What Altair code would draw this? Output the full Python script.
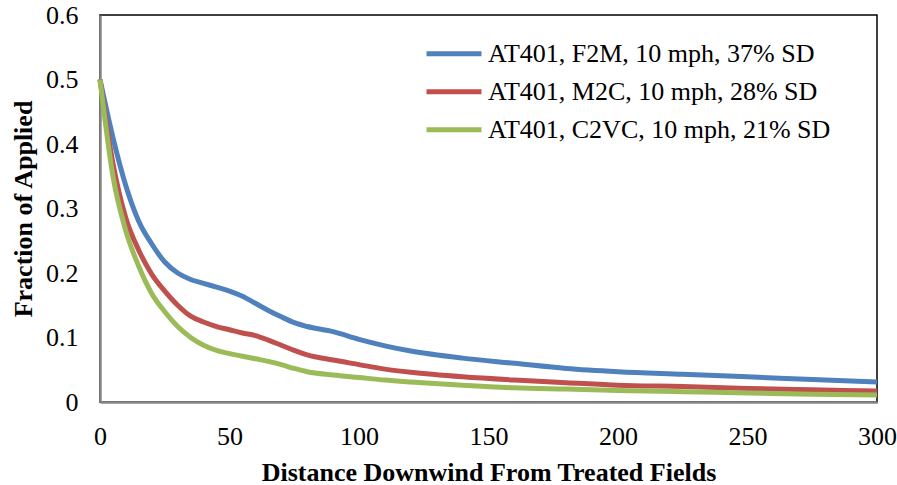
import altair as alt
import pandas as pd

distance = [0, 5, 10, 15, 20, 25, 30, 35, 40, 45, 50, 55, 60, 65, 70, 75, 80, 90, 100,
            110, 120, 140, 160, 180, 200, 225, 250, 275, 300]

series_names = [
    "AT401, F2M, 10 mph, 37% SD",
    "AT401, M2C, 10 mph, 28% SD",
    "AT401, C2VC, 10 mph, 21% SD",
]

f2m = [0.50, 0.41, 0.335, 0.28, 0.245, 0.217, 0.200, 0.190, 0.184, 0.178, 0.172, 0.164,
       0.153, 0.142, 0.132, 0.123, 0.117, 0.109, 0.097, 0.087, 0.079, 0.068, 0.060,
       0.052, 0.047, 0.043, 0.039, 0.035, 0.031]
m2c = [0.50, 0.37, 0.285, 0.235, 0.198, 0.172, 0.150, 0.133, 0.124, 0.117, 0.112, 0.107,
       0.103, 0.096, 0.088, 0.080, 0.073, 0.065, 0.058, 0.051, 0.046, 0.039, 0.034,
       0.030, 0.026, 0.024, 0.021, 0.019, 0.017]
c2vc = [0.50, 0.35, 0.265, 0.21, 0.168, 0.140, 0.117, 0.100, 0.088, 0.080, 0.075, 0.071,
        0.067, 0.063, 0.058, 0.052, 0.047, 0.042, 0.038, 0.034, 0.031, 0.026, 0.022,
        0.020, 0.018, 0.016, 0.014, 0.012, 0.011]

colors = ["#4F81BD", "#C0504D", "#9BBB59"]

rows = []
for name, vals in zip(series_names, [f2m, m2c, c2vc]):
    for d, v in zip(distance, vals):
        rows.append({"Distance": d, "Fraction": v, "Series": name})
df = pd.DataFrame(rows)

FONT = "Liberation Serif"

chart = alt.Chart(df).mark_line(strokeWidth=5, interpolate="monotone").encode(
    x=alt.X("Distance:Q",
            scale=alt.Scale(domain=[0, 300], nice=False),
            axis=alt.Axis(title="Distance Downwind From Treated Fields",
                          values=[0, 50, 100, 150, 200, 250, 300],
                          grid=False, ticks=False, labelPadding=21,
                          labelFlush=False, titlePadding=10)),
    y=alt.Y("Fraction:Q",
            scale=alt.Scale(domain=[0, 0.6], nice=False),
            axis=alt.Axis(title="Fraction of Applied",
                          values=[0, 0.1, 0.2, 0.3, 0.4, 0.5, 0.6],
                          format="~g",
                          grid=False, ticks=False, labelPadding=22,
                          labelFlush=False, titlePadding=9)),
    color=alt.Color("Series:N",
                    scale=alt.Scale(domain=series_names, range=colors),
                    sort=series_names,
                    legend=alt.Legend(title=None, orient="none",
                                      legendX=324, legendY=20,
                                      symbolType="stroke", symbolSize=3025,
                                      symbolStrokeWidth=5, labelOffset=4,
                                      clipHeight=37.5, rowPadding=0)),
    order=alt.Order("Distance:Q"),
).properties(
    width=777, height=387,
    padding={"left": 100, "top": 15, "right": 20, "bottom": 83},
    autosize="none",
).configure_view(
    stroke="black", strokeWidth=1.5
).configure_axis(
    labelFont=FONT, titleFont=FONT, labelFontSize=26, titleFontSize=26,
    labelColor="black", titleColor="black", titleFontWeight="bold",
    domainColor="#868686", domainWidth=2.5,
).configure_legend(
    labelFont=FONT, labelFontSize=26, labelColor="black", labelLimit=500,
)

chart.save("out.html", embed_options={"renderer": "svg", "actions": False})
